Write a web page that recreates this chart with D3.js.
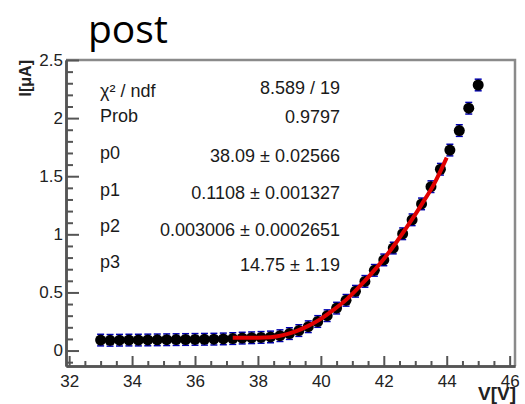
<!DOCTYPE html>
<html><head><meta charset="utf-8">
<script src="https://cdn.jsdelivr.net/npm/d3@7"></script>
<style>
html,body{margin:0;padding:0;background:#fff;}
svg{display:block;}
text{font-family:"Liberation Sans",Arial,Helvetica,sans-serif;}
</style></head>
<body>
<svg id="c" width="525" height="404"></svg>
<script>
// ---- data ----
const voltage = [33.0,33.3,33.6,33.9,34.2,34.5,34.8,35.1,35.4,35.7,36.0,36.3,36.6,36.9,37.2,37.5,37.8,38.1,38.4,38.7,39.0,39.3,39.6,39.9,40.2,40.5,40.8,41.1,41.4,41.7,42.0,42.3,42.6,42.9,43.2,43.5,43.8,44.1,44.4,44.7,45.0];
const current = [0.090,0.088,0.089,0.090,0.090,0.091,0.092,0.093,0.094,0.095,0.096,0.097,0.098,0.100,0.103,0.107,0.110,0.113,0.117,0.128,0.146,0.172,0.205,0.250,0.300,0.365,0.432,0.510,0.595,0.690,0.780,0.882,1.005,1.125,1.262,1.410,1.560,1.725,1.893,2.085,2.285];
const currentErr = [0.05,0.05,0.05,0.05,0.05,0.05,0.05,0.05,0.05,0.05,0.05,0.05,0.05,0.05,0.05,0.05,0.05,0.05,0.05,0.05,0.05,0.05,0.05,0.05,0.05,0.05,0.05,0.05,0.05,0.05,0.05,0.05,0.05,0.05,0.05,0.05,0.05,0.05,0.05,0.05,0.05];
const fitV = [37.2,37.6,38.0,38.4,38.8,39.2,39.6,40.0,40.4,40.8,41.2,41.6,42.0,42.4,42.8,43.2,43.6,44.0];
const fitI = [0.111,0.111,0.111,0.115,0.133,0.165,0.212,0.273,0.350,0.436,0.543,0.660,0.788,0.932,1.089,1.256,1.434,1.660];
const xTicks = [32,34,36,38,40,42,44,46];
const yTicks = [0,0.5,1,1.5,2,2.5];
const yTickLabels = ["0","0.5","1","1.5","2","2.5"];
const statLabels = ["\u03c7\u00b2 / ndf","Prob","p0","p1","p2","p3"];
const statValues = ["8.589 / 19","0.9797","38.09 \u00b1 0.02566","0.1108 \u00b1 0.001327","0.003006 \u00b1 0.0002651","14.75 \u00b1 1.19"];
const title = "post";
const xTitle = "V[V]";
const yTitle = "I[\u03bcA]";

// ---- layout ----
const L = 66, R = 515, T = 60, B = 366;
const svg = d3.select("#c");
const x = d3.scaleLinear().domain([31.9, 46.17]).range([L, R]);
const y = d3.scaleLinear().domain([-0.133, 2.5]).range([B, T]);

// frame (top/right grey)
svg.append("path")
  .attr("d", `M${L},${T}H${R}V${B}`)
  .attr("fill","none").attr("stroke","#8a8a8a").attr("stroke-width",2.5);

// minor ticks
const xMinor = d3.range(32, 46.01, 0.5).filter(v => Math.abs(v/2 - Math.round(v/2)) > 1e-6);
const yMinor = d3.range(-0.1, 2.45, 0.1).map(v => +v.toFixed(2)).filter(v => Math.abs(v*2 - Math.round(v*2)) > 1e-6);

const gxm = svg.append("g").attr("transform",`translate(0,${B})`)
  .call(d3.axisBottom(x).tickValues(xMinor).tickSize(-5).tickSizeOuter(0).tickFormat(""));
const gym = svg.append("g").attr("transform",`translate(${L},0)`)
  .call(d3.axisLeft(y).tickValues(yMinor).tickSize(-7).tickSizeOuter(0).tickFormat(""));

const gx = svg.append("g").attr("transform",`translate(0,${B})`)
  .call(d3.axisBottom(x).tickValues(xTicks).tickSize(-10).tickSizeOuter(0).tickPadding(9));
const gy = svg.append("g").attr("transform",`translate(${L},0)`)
  .call(d3.axisLeft(y).tickValues(yTicks).tickSize(-13).tickSizeOuter(0).tickPadding(3)
    .tickFormat((d,i) => yTickLabels[i]));

[gxm,gym,gx,gy].forEach(g => {
  g.selectAll("line").attr("stroke","#555").attr("stroke-width",2);
  g.select(".domain").attr("stroke","#555").attr("stroke-width",2.5);
  g.selectAll("text").attr("fill","#222").style("font-size","17px")
    .style("font-family","'Liberation Sans',Arial,sans-serif");
});

// axis titles
svg.append("text").attr("transform",`translate(31,60) rotate(-90)`)
  .attr("text-anchor","end").style("font-size","16px").style("font-weight","bold")
  .attr("fill","#222").text(yTitle);
svg.append("text").attr("x",516).attr("y",400)
  .attr("text-anchor","end").style("font-size","19px").style("font-weight","bold")
  .attr("fill","#222").text(xTitle);

// title
svg.append("text").attr("x",88).attr("y",43)
  .style("font-family","'Open Sans','Noto Sans',sans-serif").style("font-size","39px")
  .attr("fill","#000").text(title);

// stats
const leftBase = [97,122,159,196,232,268];
const rightBase = [94,123,162,199,236,271];
svg.append("g").selectAll("text").data(statLabels).join("text")
  .attr("x",100).attr("y",(d,i)=>leftBase[i])
  .style("font-size","18px").attr("fill","#1a1a1a").text(d=>d);
svg.append("g").selectAll("text").data(statValues).join("text")
  .attr("x",340).attr("y",(d,i)=>rightBase[i]).attr("text-anchor","end")
  .style("font-size","18px").attr("fill","#1a1a1a").text(d=>d);

// error bars
const pts = voltage.map((v,i)=>({v, c:current[i], e:currentErr[i]}));
const eg = svg.append("g").attr("stroke","#0000b0").attr("stroke-width",1.5);
eg.selectAll("line.v").data(pts).join("line").attr("class","v")
  .attr("x1",d=>x(d.v)).attr("x2",d=>x(d.v)).attr("y1",d=>y(d.c+d.e)).attr("y2",d=>y(d.c-d.e));
eg.selectAll("line.t").data(pts).join("line").attr("class","t")
  .attr("x1",d=>x(d.v)-3.5).attr("x2",d=>x(d.v)+3.5).attr("y1",d=>y(d.c+d.e)).attr("y2",d=>y(d.c+d.e));
eg.selectAll("line.b").data(pts).join("line").attr("class","b")
  .attr("x1",d=>x(d.v)-3.5).attr("x2",d=>x(d.v)+3.5).attr("y1",d=>y(d.c-d.e)).attr("y2",d=>y(d.c-d.e));

// points
svg.append("g").selectAll("circle").data(pts).join("circle")
  .attr("cx",d=>x(d.v)).attr("cy",d=>y(d.c)).attr("r",5.5).attr("fill","#000");

// fit
const fit = fitV.map((v,i)=>[v,fitI[i]]);
svg.append("path").datum(fit)
  .attr("d", d3.line().x(d=>x(d[0])).y(d=>y(d[1])).curve(d3.curveMonotoneX))
  .attr("fill","none").attr("stroke","#e00000").attr("stroke-width",4);
</script>
</body></html>
